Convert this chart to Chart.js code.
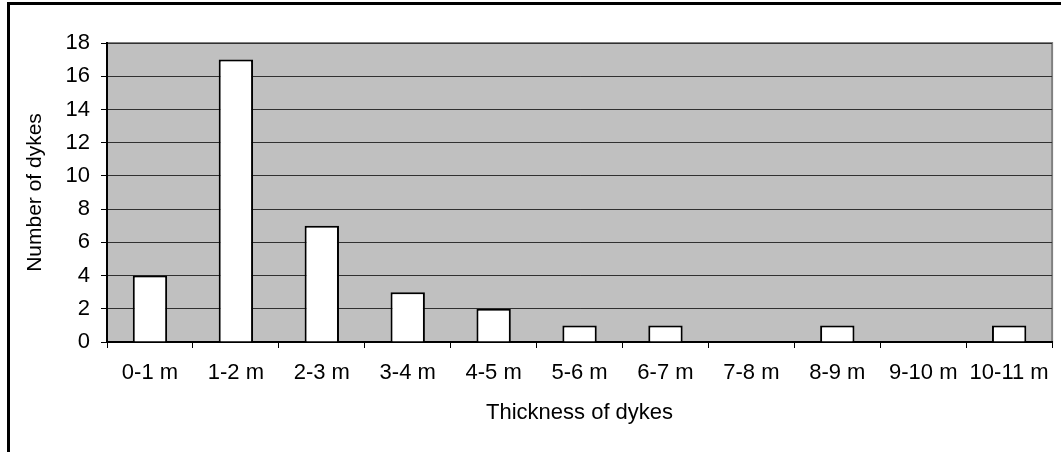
<!DOCTYPE html>
<html>
<head>
<meta charset="utf-8">
<script src="https://cdn.jsdelivr.net/npm/chart.js@4/dist/chart.umd.min.js"></script>
<style>
  html, body { margin: 0; padding: 0; background: #fff; }
  #wrap { position: relative; width: 1061px; height: 452px; overflow: hidden; }
  #frame { position: absolute; left: 7px; top: 2px; width: 1200px; height: 600px;
           border-left: 3px solid #000; border-top: 3px solid #000; }
  canvas { position: absolute; left: 0; top: 0; }
</style>
</head>
<body>
<div id="wrap">
  <div id="frame"></div>
  <canvas id="chart" width="1061" height="452"></canvas>
</div>
<script>
'use strict';

// dyke thickness classes and how many dykes fall in each
const categories = ['0-1 m', '1-2 m', '2-3 m', '3-4 m', '4-5 m', '5-6 m', '6-7 m', '7-8 m', '8-9 m', '9-10 m', '10-11 m'];
const dykeCounts = [4, 17, 7, 3, 2, 1, 1, 0, 1, 0, 1];
const yTicks = [0, 2, 4, 6, 8, 10, 12, 14, 16, 18];

const fontFamily = '"Liberation Sans", Arial, sans-serif';
const fontSize = 22;

// gray plot background with a thin frame, like the old excel look
const plotBackground = {
    id: 'plotBackground',
    beforeDraw(chart) {
        const ctx = chart.ctx;
        const a = chart.chartArea;
        ctx.save();
        ctx.fillStyle = '#c0c0c0';
        ctx.fillRect(a.left, a.top, a.right - a.left, a.bottom - a.top);
        ctx.strokeStyle = '#808080';
        ctx.lineWidth = 2;
        ctx.strokeRect(a.left, a.top, a.right - a.left, a.bottom - a.top);
        ctx.restore();
    }
};

let ctx = document.getElementById('chart').getContext('2d');
let chart = new Chart(ctx, {
    type: 'bar',
    data: {
        labels: categories,
        datasets: [{
            label: 'Number of dykes',
            data: dykeCounts,
            backgroundColor: '#ffffff',
            borderColor: '#000000',
            borderWidth: 2,
            barPercentage: 0.4,
            categoryPercentage: 1.0
        }]
    },
    options: {
        responsive: false,
        animation: false,
        layout: { padding: { left: 0, top: 43, right: 7, bottom: 0 } },
        plugins: {
            legend: { display: false },
            tooltip: { enabled: false }
        },
        scales: {
            x: {
                offset: true,
                afterFit(scale) { scale.height = 110; },
                grid: {
                    offset: true,
                    drawOnChartArea: false,
                    drawTicks: true,
                    tickLength: 6,
                    color: '#000000'
                },
                border: { display: true, color: '#000000', width: 2 },
                ticks: {
                    color: '#000000',
                    padding: 12,
                    maxRotation: 0,
                    autoSkip: false,
                    font: { family: fontFamily, size: fontSize }
                },
                title: {
                    display: true,
                    text: 'Thickness of dykes',
                    color: '#000000',
                    padding: { top: 0, bottom: 26 },
                    font: { family: fontFamily, size: fontSize }
                }
            },
            y: {
                min: 0,
                max: 18,
                afterFit(scale) { scale.width = 107; },
                afterBuildTicks(scale) {
                    scale.ticks = yTicks.map(v => ({ value: v }));
                },
                grid: {
                    color: '#303030',
                    lineWidth: 1,
                    drawTicks: true,
                    tickLength: 6,
                    tickColor: '#000000'
                },
                border: { display: true, color: '#000000', width: 2 },
                ticks: {
                    color: '#000000',
                    padding: 11,
                    font: { family: fontFamily, size: fontSize }
                },
                title: {
                    display: true,
                    text: 'Number of dykes',
                    color: '#000000',
                    padding: { top: 23, bottom: 0 },
                    font: { family: fontFamily, size: 21 }
                }
            }
        }
    },
    plugins: [plotBackground]
});
</script>
</body>
</html>
